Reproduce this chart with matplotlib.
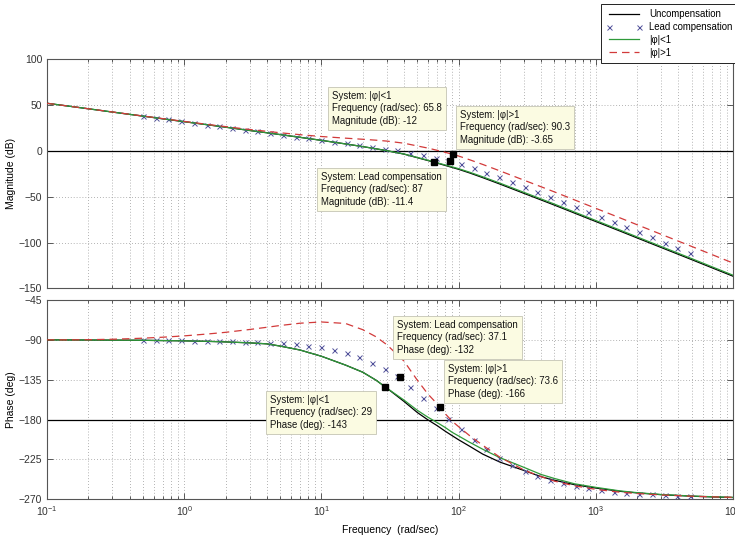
import matplotlib
matplotlib.use("Agg")
import matplotlib.pyplot as plt
from matplotlib.ticker import LogLocator, NullFormatter, FixedLocator

plt.rcParams['font.family'] = ['Liberation Sans', 'DejaVu Sans']
plt.rcParams['mathtext.default'] = 'regular'
plt.rcParams['font.size'] = 7.5

# ---- frequency grid for the continuous responses (rad/sec) ----
freq = [0.1, 0.15, 0.2, 0.3, 0.4, 0.5, 0.7, 1, 1.5, 2, 3, 4, 5, 7, 10, 15, 20, 25, 30,
        40, 50, 60, 70, 80, 90, 100, 120, 150, 200, 300, 400, 500, 700, 1000, 1500,
        2000, 3000, 5000, 7000, 10000]

# ---- magnitude (dB) ----
mag_uncomp = [52.0, 48.5, 46.0, 42.4, 39.9, 38.0, 35.0, 31.9, 28.4, 25.9, 22.3, 19.8, 17.8,
              14.8, 11.5, 7.6, 4.7, 2.3, 0.2, -3.5, -7.4, -10.6, -13.4, -15.9, -18.1, -20.1,
              -24.0, -29.2, -36.2, -46.4, -53.6, -59.2, -67.9, -77.1, -87.5, -95.0, -105.5,
              -118.7, -127.5, -136.8]
mag_small = [52.0, 48.5, 46.0, 42.4, 39.9, 38.0, 35.0, 31.9, 28.4, 25.9, 22.3, 19.8, 17.8,
             14.8, 11.5, 7.6, 4.7, 2.3, 0.2, -3.4, -7.2, -10.3, -13.0, -15.4, -17.5, -19.4,
             -23.2, -28.3, -35.2, -45.3, -52.5, -58.1, -66.8, -76.0, -86.4, -93.9, -104.4,
             -117.6, -126.4, -135.7]
mag_large = [52.0, 48.5, 46.0, 42.5, 40.0, 38.1, 35.2, 32.2, 28.8, 26.5, 23.4, 21.4, 19.8,
             17.7, 15.7, 13.9, 12.7, 11.7, 10.7, 8.4, 5.4, 3.0, 0.6, -1.6, -3.6, -5.6,
             -9.6, -14.8, -21.8, -32.0, -39.2, -44.8, -53.5, -62.7, -73.1, -80.6, -91.1,
             -104.3, -113.1, -122.4]

# ---- phase (deg) ----
ph_uncomp = [-90.0, -90.1, -90.2, -90.3, -90.4, -90.5, -90.8, -91.1, -91.7, -92.3, -93.4,
             -94.5, -97.0, -101.5, -108.5, -118.5, -126.5, -135.5, -144.5, -159.5, -172.0,
             -180.5, -187.0, -193.2, -198.3, -202.8, -210.0, -219.0, -228.0, -237.5, -244.5,
             -248.5, -253.5, -257.3, -261.0, -262.8, -264.8, -266.5, -267.3, -268.0]
ph_small = [-90.0, -90.1, -90.2, -90.3, -90.4, -90.5, -90.8, -91.1, -91.7, -92.3, -93.4,
            -94.5, -97.0, -101.5, -108.5, -118.5, -126.5, -135.5, -144.5, -158.0, -169.5,
            -177.5, -183.5, -189.0, -194.5, -198.5, -205.5, -213.5, -223.0, -234.0, -242.0,
            -246.5, -252.5, -256.5, -260.5, -262.5, -264.6, -266.3, -267.1, -267.8]
ph_large = [-90.0, -90.0, -89.8, -89.3, -88.7, -88.1, -87.0, -85.5, -83.3, -81.5, -78.3,
            -75.8, -73.8, -71.2, -69.8, -71.5, -78.5, -86.5, -95.5, -114.0, -135.5, -151.5,
            -162.5, -173.5, -182.0, -188.0, -198.0, -209.0, -222.5, -237.0, -244.5, -249.5,
            -254.8, -258.8, -262.0, -263.5, -265.1, -266.5, -267.2, -267.8]

# ---- lead-compensated response, sampled points (drawn as markers) ----
lead_freq = [0.5, 0.619, 0.766, 0.949, 1.175, 1.455, 1.801, 2.23, 2.761, 3.418, 4.232, 5.24,
             6.488, 8.032, 9.945, 12.31, 15.24, 18.87, 23.37, 28.93, 35.82, 44.35, 54.91,
             67.98, 84.17, 104.2, 129.0, 159.7, 197.8, 244.9, 303.2, 375.4, 464.7, 575.4,
             712.4, 882.0, 1092, 1352, 1674, 2072, 2566, 3177, 3933, 4869]
lead_mag = [38.0, 36.2, 34.3, 32.5, 30.6, 28.7, 26.9, 25.0, 23.2, 21.3, 19.4, 17.5, 15.6,
            13.7, 11.8, 10.0, 8.1, 6.2, 4.3, 2.5, 0.6, -1.8, -4.8, -7.8, -10.9, -14.6, -19.1,
            -23.9, -28.8, -34.0, -39.3, -44.7, -50.2, -55.7, -61.2, -66.7, -72.3, -77.8,
            -83.3, -88.9, -94.4, -100.0, -105.5, -111.1]
lead_phase = [-90.4, -90.4, -90.5, -90.6, -90.8, -91.0, -91.3, -91.6, -92.0, -92.5, -93.1,
              -93.9, -95.0, -96.5, -98.5, -101.5, -105.2, -109.7, -115.7, -122.9, -131.0,
              -143.0, -155.5, -167.0, -179.0, -190.5, -202.5, -213.5, -223.5, -231.5,
              -238.0, -243.5, -248.0, -252.0, -255.0, -257.6, -259.7, -261.3, -262.5,
              -263.5, -264.4, -265.2, -265.8, -266.3]

# ---- data tips: (frequency, value, label text, text anchor in pixels) ----
tips_mag = [
    (65.8, -12.0, "System: |\u03c6|<1\nFrequency (rad/sec): 65.8\nMagnitude (dB): -12", (332, 91)),
    (90.3, -3.65, "System: |\u03c6|>1\nFrequency (rad/sec): 90.3\nMagnitude (dB): -3.65", (460, 110)),
    (87.0, -11.4, "System: Lead compensation\nFrequency (rad/sec): 87\nMagnitude (dB): -11.4", (321, 172)),
]
tips_phase = [
    (37.1, -132.0, "System: Lead compensation\nFrequency (rad/sec): 37.1\nPhase (deg): -132", (397, 320)),
    (73.6, -166.0, "System: |\u03c6|>1\nFrequency (rad/sec): 73.6\nPhase (deg): -166", (448, 364)),
    (29.0, -143.0, "System: |\u03c6|<1\nFrequency (rad/sec): 29\nPhase (deg): -143", (270, 395)),
]

labels = ["Uncompensation", "Lead compensation", "|\u03c6|<1", "|\u03c6|>1"]

W, H = 735, 539
fig = plt.figure(figsize=(W / 100, H / 100), dpi=100)
fig.patch.set_facecolor('white')


def px_box(l, t, r, b):
    return [l / W, 1 - b / H, (r - l) / W, (b - t) / H]


ax_mag = fig.add_axes(px_box(47, 59.3, 733, 288.3))
ax_ph = fig.add_axes(px_box(47, 300, 733, 499.3))

c_black = 'black'
c_lead = '#50509a'
c_green = '#2f9a3a'
c_red = '#d23a3a'

for ax, ys, lead_y, ref in ((ax_mag, (mag_uncomp, mag_small, mag_large), lead_mag, 0),
                            (ax_ph, (ph_uncomp, ph_small, ph_large), lead_phase, -180)):
    ax.set_xscale('log')
    ax.axhline(ref, color='black', lw=0.9, zorder=1)
    h1, = ax.plot(freq, ys[0], color=c_black, lw=0.9, zorder=3)
    h2, = ax.plot(lead_freq, lead_y, ls='none', marker='x', ms=3.6, mew=0.7,
                  color=c_lead, zorder=4)
    h3, = ax.plot(freq, ys[1], color=c_green, lw=0.9, zorder=4)
    h4, = ax.plot(freq, ys[2], color=c_red, lw=0.9, ls=(0, (6, 4)), zorder=5)
    ax.set_xlim(0.1, 1e4)
    ax.xaxis.set_major_locator(LogLocator(base=10, numticks=10))
    ax.xaxis.set_minor_locator(LogLocator(base=10, subs=range(2, 10), numticks=20))
    ax.xaxis.set_minor_formatter(NullFormatter())
    ax.grid(True, which='both', axis='x', color='#9a9a9a', lw=0.6, ls=(0, (1, 2.5)))
    ax.grid(True, which='major', axis='y', color='#9a9a9a', lw=0.6, ls=(0, (1, 2.5)))
    ax.set_axisbelow(True)
    ax.tick_params(which='both', direction='in', top=True, right=True,
                   colors='#404040', labelcolor='#333333', labelsize=7.5, width=0.6)
    ax.tick_params(which='major', length=4)
    ax.tick_params(which='minor', length=2)
    for sp in ax.spines.values():
        sp.set_color('#555555')
        sp.set_linewidth(0.8)
    ax.set_facecolor('white')

handles = [h1, h2, h3, h4]

ax_mag.set_ylim(-150, 100)
ax_mag.yaxis.set_major_locator(FixedLocator([-150, -100, -50, 0, 50, 100]))
ax_mag.tick_params(axis='x', which='both', labelbottom=False)
ax_mag.set_ylabel("Magnitude (dB)", fontsize=7.5, labelpad=2)

ax_ph.set_ylim(-270, -45)
ax_ph.yaxis.set_major_locator(FixedLocator([-270, -225, -180, -135, -90, -45]))
ax_ph.set_ylabel("Phase (deg)", fontsize=7.5, labelpad=2)
ax_ph.set_xlabel("Frequency  (rad/sec)", fontsize=7.5, labelpad=5)

# data-tip markers and boxes
for ax, tips in ((ax_mag, tips_mag), (ax_ph, tips_phase)):
    for f, v, txt, (tx, ty) in tips:
        ax.plot([f], [v], marker='s', ms=5, color='black', ls='none', zorder=8)
        fig.text(tx / W, 1 - ty / H, txt, ha='left', va='top', fontsize=6.9,
                 linespacing=1.3, color='#111111', zorder=9,
                 bbox=dict(boxstyle='square,pad=0.4', fc='#fbfbe2', ec='#c4c4b4', lw=0.6))

leg = fig.legend(handles, labels, loc='lower left', bbox_to_anchor=(600.5 / W, 1 - 63 / H),
                 frameon=True, fancybox=False, edgecolor='#222222', framealpha=1,
                 fontsize=6.9, numpoints=2, handlelength=3.8, handletextpad=0.7,
                 labelspacing=0.3, borderpad=0.55, borderaxespad=0)
leg.get_frame().set_linewidth(0.7)
leg.set_zorder(10)

fig.savefig("out.png", dpi=100)
